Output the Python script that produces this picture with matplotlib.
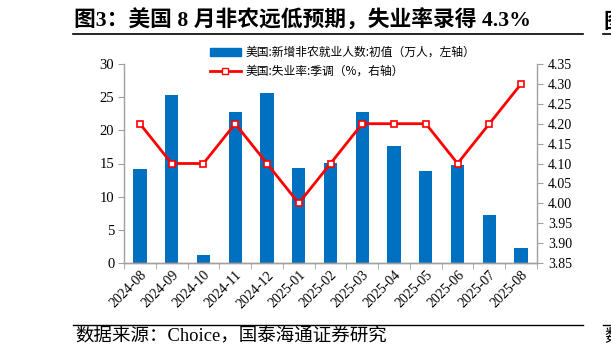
import matplotlib
matplotlib.use("Agg")
import matplotlib.pyplot as plt
import numpy as np
from matplotlib.lines import Line2D

plt.rcParams['font.family'] = ['Liberation Serif', 'Noto Sans CJK SC']

months = ["2024-08", "2024-09", "2024-10", "2024-11", "2024-12", "2025-01", "2025-02",
          "2025-03", "2025-04", "2025-05", "2025-06", "2025-07", "2025-08"]
payrolls = [14.2, 25.4, 1.2, 22.7, 25.6, 14.3, 15.1, 22.8, 17.7, 13.9, 14.7, 7.3, 2.2]
unemployment = [4.2, 4.1, 4.1, 4.2, 4.1, 4.0, 4.1, 4.2, 4.2, 4.2, 4.1, 4.2, 4.3]
left_ticks = [0, 5, 10, 15, 20, 25, 30]
right_ticks = [3.85, 3.90, 3.95, 4.00, 4.05, 4.10, 4.15, 4.20, 4.25, 4.30, 4.35]

W, H = 611, 358
fig = plt.figure(figsize=(W / 100, H / 100), dpi=100)
ax = fig.add_axes([124 / W, 1 - 263 / H, (537 - 124) / W, (263 - 64) / H])
ax2 = ax.twinx()

x = np.arange(len(months))
ax.bar(x, payrolls, width=0.42, color="#0070C0", zorder=2)
ax.set_xlim(-0.5, len(months) - 0.5)
ax.set_ylim(0, 30)
ax.set_yticks(left_ticks)
ax.set_xticks(x)
ax.set_xticklabels(months, rotation=45, ha="right", rotation_mode="anchor", fontsize=10)
ax.set_xticks(np.arange(-0.5, len(months), 1), minor=True)
ax.tick_params(axis="x", which="major", length=0, pad=4)
ax.tick_params(axis="x", which="minor", length=4, color="#A0A0A0", direction="out")
ax.tick_params(axis="y", length=4, color="#A0A0A0", direction="out", labelsize=10.5, pad=3)

ax2.plot(x, unemployment, color="#FF0000", lw=2, marker="s", ms=4,
         markerfacecolor="white", markeredgecolor="#FF0000", markeredgewidth=1.2, zorder=3)
ax2.set_ylim(3.85, 4.35)
ax2.set_yticks(right_ticks)
ax2.set_yticklabels([f"{v:.2f}" for v in right_ticks])
ax2.tick_params(axis="y", length=4, color="#A0A0A0", direction="out", labelsize=10, pad=4)

for a in (ax, ax2):
    a.spines["top"].set_visible(False)
    for s in ("left", "right", "bottom"):
        a.spines[s].set_color("#A0A0A0")
        a.spines[s].set_linewidth(1)
ax.spines["right"].set_visible(False)
ax2.spines["left"].set_visible(False)

handles = [
    plt.Rectangle((0, 0), 1, 1, color="#0070C0"),
    Line2D([], [], color="#FF0000", lw=2, marker="s", ms=4, markerfacecolor="white",
           markeredgecolor="#FF0000"),
]
labels = ["美国:新增非农就业人数:初值（万人，左轴）", "美国:失业率:季调（%，右轴）"]
leg = fig.legend(handles, labels, loc="upper left", bbox_to_anchor=(204 / W, 1 - 40 / H),
                 frameon=False, prop={"family": ["Noto Sans CJK SC"], "size": 8.5},
                 handlelength=2.6, labelspacing=0.5, handletextpad=0.4, borderpad=0)
ax2.set_zorder(ax.get_zorder() + 1)
ax2.patch.set_visible(False)

# Title
fig.text(74 / W, 1 - 21 / H, "图3：美国 8 月非农远低预期，失业率录得 4.3%",
         fontsize=15.7, fontweight="bold", ha="left", va="center",
         family=["Liberation Serif", "Noto Sans CJK SC"])
fig.add_artist(Line2D([73 / W, 583 / W], [1 - 33.5 / H, 1 - 33.5 / H], color="black", lw=1.2))
fig.add_artist(Line2D([603 / W, 1.0], [1 - 33.5 / H, 1 - 33.5 / H], color="black", lw=1.2))
fig.text(603 / W, 1 - 21 / H, "图", fontsize=15.5, fontweight="bold", ha="left", va="center",
         family=["Noto Sans CJK SC"])

# Source
fig.add_artist(Line2D([73 / W, 583 / W], [1 - 325 / H, 1 - 325 / H], color="black", lw=1))
fig.add_artist(Line2D([603 / W, 1.0], [1 - 325 / H, 1 - 325 / H], color="black", lw=1))
fig.text(75 / W, 1 - 337 / H, "数据来源：Choice，国泰海通证券研究", fontsize=13.3,
         ha="left", va="center", family=["Liberation Serif", "Noto Sans CJK SC"])
fig.text(604 / W, 1 - 337 / H, "数", fontsize=12.5, ha="left", va="center",
         family=["Noto Sans CJK SC"])

fig.savefig("out.png", dpi=100)
